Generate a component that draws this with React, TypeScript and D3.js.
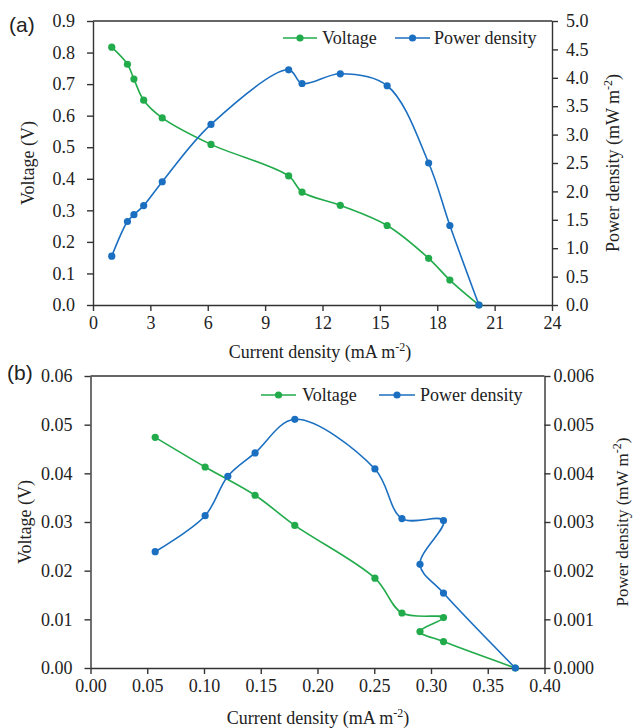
import React, { useRef, useEffect } from "react";
import * as d3 from "d3";

const green = "#22ab4b";
const blue = "#1b6fc1";
const serif = "'Liberation Serif', 'Times New Roman', serif";

// panel (a)
const aCurrent = [0.98, 1.8, 2.14, 2.65, 3.62, 6.17, 10.23, 10.93, 12.93, 15.38, 17.55, 18.66, 20.18];
const aVoltage = [0.817, 0.763, 0.716, 0.649, 0.593, 0.509, 0.409, 0.358, 0.316, 0.252, 0.148, 0.079, 0.0];
const aPower = [0.86, 1.47, 1.59, 1.75, 2.17, 3.18, 4.14, 3.9, 4.07, 3.86, 2.5, 1.4, 0.0];
const aXTicks = [0, 3, 6, 9, 12, 15, 18, 21, 24];
const aYTicks = [0, 0.1, 0.2, 0.3, 0.4, 0.5, 0.6, 0.7, 0.8, 0.9];
const aRTicks = [0, 0.5, 1, 1.5, 2, 2.5, 3, 3.5, 4, 4.5, 5];

// panel (b)
const bVoltCurrent = [0.057, 0.101, 0.145, 0.18, 0.2506, 0.2744, 0.311, 0.2903, 0.311, 0.3743];
const bVoltage = [0.0474, 0.0413, 0.0355, 0.0293, 0.01845, 0.0113, 0.01037, 0.00749, 0.00543, 0.0];
const bPowCurrent = [0.057, 0.101, 0.121, 0.145, 0.18, 0.2506, 0.2744, 0.311, 0.2903, 0.311, 0.3743];
const bPower = [0.00239, 0.00313, 0.00394, 0.00442, 0.00511, 0.00409, 0.00307, 0.00303, 0.00213, 0.00154, 0.0];
const bXTicks = [0, 0.05, 0.1, 0.15, 0.2, 0.25, 0.3, 0.35, 0.4];
const bYTicks = [0, 0.01, 0.02, 0.03, 0.04, 0.05, 0.06];
const bRTicks = [0, 0.001, 0.002, 0.003, 0.004, 0.005, 0.006];

const styleAxis = (g) => {
    g.attr("font-size", 18);
    g.select(".domain").attr("stroke", "#333").attr("stroke-width", 1.4);
    g.selectAll(".tick line").attr("stroke", "#333").attr("stroke-width", 1.4);
    g.selectAll(".tick text").attr("fill", "#222").style("font-family", serif).style("font-size", "18px");
};

const supText = (sel, before, sup, after) => {
    sel.append("tspan").text(before);
    sel.append("tspan").attr("dy", -7).style("font-size", "12px").text(sup);
    sel.append("tspan").attr("dy", 7).text(after);
};

const drawPanel = (svg, p) => {
    const g = svg.append("g");
    const x = d3.scaleLinear().domain(p.xDomain).range([p.left, p.right]);
    const yL = d3.scaleLinear().domain(p.yDomain).range([p.bottom, p.top]);
    const yR = d3.scaleLinear().domain(p.rDomain).range([p.bottom, p.top]);

    // top frame line
    g.append("line")
        .attr("x1", p.left).attr("x2", p.right)
        .attr("y1", p.top).attr("y2", p.top)
        .attr("stroke", "#333").attr("stroke-width", 1.4);

    g.append("g").attr("transform", `translate(0,${p.bottom})`)
        .call(d3.axisBottom(x).tickValues(p.xTicks).tickFormat(d3.format(p.xFmt)).tickSize(6).tickPadding(5).tickSizeOuter(0))
        .call(styleAxis);
    g.append("g").attr("transform", `translate(${p.left},0)`)
        .call(d3.axisLeft(yL).tickValues(p.yTicks).tickFormat(d3.format(p.yFmt)).tickSize(6).tickPadding(12).tickSizeOuter(0))
        .call(styleAxis);
    g.append("g").attr("transform", `translate(${p.right},0)`)
        .call(d3.axisRight(yR).tickValues(p.rTicks).tickFormat(d3.format(p.rFmt)).tickSize(6).tickPadding(p.rPad).tickSizeOuter(0))
        .call(styleAxis);

    const series = [
        { xs: p.vx, ys: p.vy, y: yL, color: green },
        { xs: p.px, ys: p.py, y: yR, color: blue },
    ];
    series.forEach(s => {
        const pts = s.xs.map((d, i) => [d, s.ys[i]]);
        const line = d3.line().x(d => x(d[0])).y(d => s.y(d[1])).curve(d3.curveCatmullRom.alpha(0.5));
        g.append("path").attr("d", line(pts)).attr("fill", "none")
            .attr("stroke", s.color).attr("stroke-width", 1.6);
        g.append("g").selectAll("circle").data(pts).join("circle")
            .attr("cx", d => x(d[0])).attr("cy", d => s.y(d[1]))
            .attr("r", 3.6).attr("fill", s.color);
    });

    // legend
    const leg = g.append("g");
    [
        { label: "Voltage", color: green, x0: p.legX[0], x1: p.legX[1], tx: p.legX[2] },
        { label: "Power density", color: blue, x0: p.legX[3], x1: p.legX[4], tx: p.legX[5] },
    ].forEach(d => {
        leg.append("line").attr("x1", d.x0).attr("x2", d.x1).attr("y1", p.legY).attr("y2", p.legY)
            .attr("stroke", d.color).attr("stroke-width", 1.6);
        leg.append("circle").attr("cx", (d.x0 + d.x1) / 2).attr("cy", p.legY).attr("r", 3.6).attr("fill", d.color);
        leg.append("text").attr("x", d.tx).attr("y", p.legY).attr("dy", "0.35em")
            .attr("fill", "#222").style("font-family", serif).style("font-size", "18px")
            .text(d.label);
    });

    // axis titles
    const t = g.append("g").attr("fill", "#222").style("font-family", serif).style("font-size", "18px");
    t.append("text").attr("text-anchor", "middle")
        .attr("transform", `translate(${p.yTitleX},${(p.top + p.bottom) / 2}) rotate(-90)`)
        .attr("dy", "0.35em").text("Voltage  (V)");
    supText(t.append("text").attr("text-anchor", "middle").style("font-size", p.rTitleSize + "px")
        .attr("transform", `translate(${p.rTitleX},${(p.top + p.bottom) / 2}) rotate(-90)`)
        .attr("dy", "0.35em"), p.rTitle, "-2", ")");
    supText(t.append("text").attr("text-anchor", "middle")
        .attr("x", p.xTitleX).attr("y", p.xTitleY), p.xTitle, "-2", ")");

    g.append("text").attr("x", p.tagX).attr("y", p.tagY)
        .style("font-family", "'Liberation Sans', Arial, sans-serif").style("font-size", "21px")
        .attr("fill", "#222").text(p.tag);
};

const App = () => {
    const plot = useRef(null);

    useEffect(() => {
        const svg = d3.select(plot.current);
        svg.selectAll("*").remove();

        drawPanel(svg, {
            left: 93, right: 552, top: 21, bottom: 305,
            xDomain: [0, 24], yDomain: [0, 0.9], rDomain: [0, 5],
            xTicks: aXTicks, yTicks: aYTicks, rTicks: aRTicks,
            xFmt: "d", yFmt: ".1f", rFmt: ".1f", rPad: 8,
            vx: aCurrent, vy: aVoltage, px: aCurrent, py: aPower,
            legX: [283, 317, 322, 395, 430, 434], legY: 38,
            yTitleX: 28, rTitleX: 613, rTitleSize: 18, rTitle: "Power density (mW m",
            xTitle: "Current density (mA m", xTitleX: 320, xTitleY: 358,
            tag: "(a)", tagX: 9, tagY: 32,
        });

        drawPanel(svg, {
            left: 90.5, right: 544.5, top: 376, bottom: 668,
            xDomain: [0, 0.4], yDomain: [0, 0.06], rDomain: [0, 0.006],
            xTicks: bXTicks, yTicks: bYTicks, rTicks: bRTicks,
            xFmt: ".2f", yFmt: ".2f", rFmt: ".3f", rPad: 3,
            vx: bVoltCurrent, vy: bVoltage, px: bPowCurrent, py: bPower,
            legX: [261, 296, 302, 379, 415, 420], legY: 395,
            yTitleX: 25, rTitleX: 622, rTitleSize: 17, rTitle: "Power density (mW  m",
            xTitle: "Current density (mA  m", xTitleX: 318, xTitleY: 724,
            tag: "(b)", tagX: 7, tagY: 380,
        });
    });

    return (
        <svg ref={plot} width={633} height={728}
            style={{ position: "absolute", left: 0, top: 0, background: "#fff" }} />
    );
};

export default App;
